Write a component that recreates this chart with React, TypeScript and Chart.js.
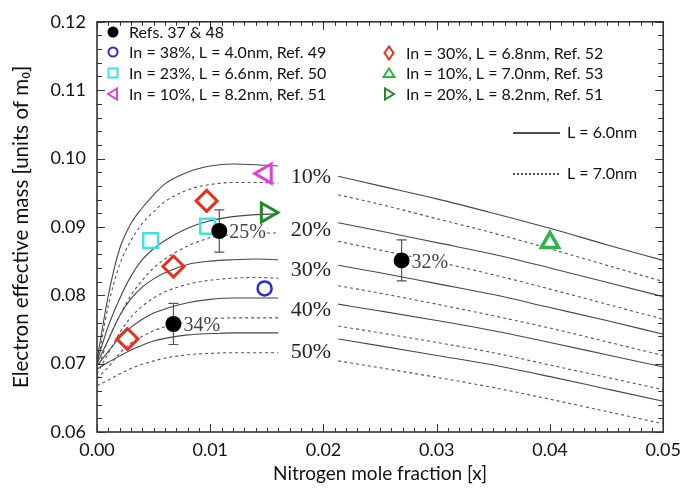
import React, { useEffect, useRef } from "react";
import { Chart, registerables } from "chart.js";
Chart.register(...registerables);

// ---------- data ----------
const LEFT_X = [0, 0.001, 0.002, 0.003, 0.004, 0.005, 0.006, 0.008, 0.010, 0.012, 0.014, 0.016];
const RIGHT_X = [0.0213, 0.025, 0.03, 0.035, 0.04, 0.045, 0.05];

// L = 6.0 nm (solid), left panel
const S10_L = [0.0705, 0.0800, 0.0868, 0.0905, 0.0928, 0.0947, 0.0963, 0.0980, 0.0989, 0.0992, 0.0991, 0.0989];
const S20_L = [0.0703, 0.0755, 0.0795, 0.0828, 0.0852, 0.0868, 0.0880, 0.0898, 0.0909, 0.0915, 0.0918, 0.0919];
const S30_L = [0.0700, 0.0735, 0.0770, 0.0795, 0.0812, 0.0824, 0.0833, 0.0845, 0.0850, 0.0852, 0.0853, 0.0852];
const S40_L = [0.0697, 0.0718, 0.0738, 0.0753, 0.0765, 0.0774, 0.0780, 0.0789, 0.0794, 0.0796, 0.0796, 0.0796];
const S50_L = [0.0692, 0.0702, 0.0711, 0.0720, 0.0727, 0.0733, 0.0737, 0.0742, 0.0744, 0.0745, 0.0745, 0.0745];
// L = 7.0 nm (dashed), left panel
const D10_L = [0.0695, 0.0785, 0.0845, 0.0880, 0.0905, 0.0922, 0.0937, 0.0954, 0.0962, 0.0965, 0.0965, 0.0964];
const D20_L = [0.0690, 0.0735, 0.0770, 0.0800, 0.0822, 0.0840, 0.0853, 0.0872, 0.0884, 0.0889, 0.0891, 0.0891];
const D30_L = [0.0685, 0.0715, 0.0745, 0.0768, 0.0784, 0.0796, 0.0805, 0.0816, 0.0822, 0.0825, 0.0826, 0.0825];
const D40_L = [0.0678, 0.0695, 0.0715, 0.0730, 0.0740, 0.0748, 0.0754, 0.0761, 0.0765, 0.0767, 0.0767, 0.0767];
const D50_L = [0.0668, 0.0676, 0.0685, 0.0693, 0.0699, 0.0704, 0.0708, 0.0713, 0.0715, 0.0716, 0.0716, 0.0716];

// right panel
const S10_R = [0.0974, 0.0960, 0.0941, 0.0920, 0.0898, 0.0874, 0.0851];
const S20_R = [0.0906, 0.0894, 0.0877, 0.0860, 0.0840, 0.0819, 0.0798];
const S30_R = [0.0844, 0.0833, 0.0817, 0.0801, 0.0782, 0.0763, 0.0743];
const S40_R = [0.0787, 0.0777, 0.0763, 0.0748, 0.0731, 0.0713, 0.0695];
const S50_R = [0.0736, 0.0726, 0.0712, 0.0698, 0.0681, 0.0663, 0.0645];
const D10_R = [0.0947, 0.0933, 0.0912, 0.0891, 0.0868, 0.0844, 0.0820];
const D20_R = [0.0879, 0.0866, 0.0849, 0.0830, 0.0809, 0.0787, 0.0765];
const D30_R = [0.0814, 0.0803, 0.0787, 0.0770, 0.0752, 0.0732, 0.0712];
const D40_R = [0.0755, 0.0745, 0.0731, 0.0716, 0.0698, 0.0680, 0.0662];
const D50_R = [0.0704, 0.0694, 0.0680, 0.0665, 0.0648, 0.0630, 0.0612];

const IN_LABELS = ["10%", "20%", "30%", "40%", "50%"];
const IN_LABEL_X = 0.0189;
const IN_LABEL_Y = [0.0972, 0.0895, 0.0836, 0.0778, 0.0717];

// experimental points
const REFS_X = [0.0108, 0.00675, 0.0269];
const REFS_Y = [0.0894, 0.0758, 0.0851];
const REFS_ERR = [0.0031, 0.0030, 0.0030];
const REFS_LABELS = ["25%", "34%", "32%"];
const REF49_X = [0.0148];
const REF49_Y = [0.0810];
const REF50_X = [0.00474, 0.00977];
const REF50_Y = [0.0880, 0.0901];
const REF51A_X = [0.0149];
const REF51A_Y = [0.0978];
const REF52_X = [0.00269, 0.00675, 0.00968];
const REF52_Y = [0.0736, 0.0842, 0.0938];
const REF53_X = [0.0400];
const REF53_Y = [0.0877];
const REF51B_X = [0.0150];
const REF51B_Y = [0.0921];

const LEGEND_COL1 = ["Refs. 37 & 48", "In = 38%, L = 4.0nm, Ref. 49", "In = 23%, L = 6.6nm, Ref. 50", "In = 10%, L = 8.2nm, Ref. 51"];
const LEGEND_COL2 = ["In = 30%, L = 6.8nm, Ref. 52", "In = 10%, L = 7.0nm, Ref. 53", "In = 20%, L = 8.2nm, Ref. 51"];
const LINE_LEGEND = ["L = 6.0nm", "L = 7.0nm"];

// ---------- styles ----------
const SANS = "Lato, 'Open Sans', sans-serif";
const SERIF = "'Liberation Serif', 'DejaVu Serif', serif";
const C_BLUE = "#2b2bd4";
const C_CYAN = "#3ee4e4";
const C_MAG = "#e03fd8";
const C_RED = "#ee2c1c";
const C_GREEN = "#2bb54a";
const C_DGREEN = "#1f8a2c";

const pts = (xs: number[], ys: number[]) => xs.map((x, i) => ({ x, y: ys[i] }));
const curve = (left: number[], right: number[]) => [
  ...pts(LEFT_X, left),
  { x: 0.019, y: null as any },
  ...pts(RIGHT_X, right),
];

function drawMarker(ctx: CanvasRenderingContext2D, kind: string, x: number, y: number, color: string) {
  ctx.save();
  ctx.strokeStyle = color;
  ctx.fillStyle = color;
  ctx.lineWidth = 2;
  ctx.beginPath();
  if (kind === "dot") {
    ctx.arc(x, y, 5.5, 0, Math.PI * 2);
    ctx.fill();
  } else if (kind === "circle") {
    ctx.arc(x, y, 4.5, 0, Math.PI * 2);
    ctx.stroke();
  } else if (kind === "square") {
    ctx.rect(x - 4.5, y - 4.5, 9, 9);
    ctx.stroke();
  } else if (kind === "left") {
    ctx.moveTo(x - 5, y);
    ctx.lineTo(x + 4, y - 5.5);
    ctx.lineTo(x + 4, y + 5.5);
    ctx.closePath();
    ctx.stroke();
  } else if (kind === "right") {
    ctx.moveTo(x + 5, y);
    ctx.lineTo(x - 4, y - 5.5);
    ctx.lineTo(x - 4, y + 5.5);
    ctx.closePath();
    ctx.stroke();
  } else if (kind === "diamond") {
    ctx.moveTo(x, y - 6.5);
    ctx.lineTo(x + 4.5, y);
    ctx.lineTo(x, y + 6.5);
    ctx.lineTo(x - 4.5, y);
    ctx.closePath();
    ctx.stroke();
  } else if (kind === "up") {
    ctx.moveTo(x, y - 4.5);
    ctx.lineTo(x + 5.5, y + 4);
    ctx.lineTo(x - 5.5, y + 4);
    ctx.closePath();
    ctx.stroke();
  }
  ctx.restore();
}

const decorPlugin = {
  id: "decor",
  beforeDatasetsDraw(chart: any) {
    const { ctx, scales } = chart;
    const xs = scales.x, ys = scales.y;
    ctx.save();
    ctx.strokeStyle = "#555";
    ctx.lineWidth = 1.2;
    REFS_X.forEach((xv, i) => {
      const px = xs.getPixelForValue(xv);
      const t = ys.getPixelForValue(REFS_Y[i] + REFS_ERR[i]);
      const b = ys.getPixelForValue(REFS_Y[i] - REFS_ERR[i]);
      ctx.beginPath();
      ctx.moveTo(px, t); ctx.lineTo(px, b);
      ctx.moveTo(px - 5, t); ctx.lineTo(px + 5, t);
      ctx.moveTo(px - 5, b); ctx.lineTo(px + 5, b);
      ctx.stroke();
    });
    ctx.restore();
  },
  afterDatasetsDraw(chart: any) {
    const { ctx, chartArea, scales } = chart;
    const { left, right, top, bottom } = chartArea;
    const xs = scales.x, ys = scales.y;
    ctx.save();
    // point labels
    ctx.font = `20px ${SERIF}`;
    ctx.textBaseline = "middle";
    ctx.textAlign = "left";
    REFS_LABELS.forEach((lab, i) => {
      const px = xs.getPixelForValue(REFS_X[i]) + 10;
      const py = ys.getPixelForValue(REFS_Y[i]) + 2;
      const w = ctx.measureText(lab).width;
      ctx.fillStyle = "#fff";
      ctx.fillRect(px, py - 7, w, 14);
      ctx.fillStyle = "#444";
      ctx.fillText(lab, px, py);
    });
    // In-content labels
    ctx.font = `22px ${SERIF}`;
    ctx.textAlign = "center";
    ctx.fillStyle = "#222";
    IN_LABELS.forEach((lab, i) => {
      ctx.fillText(lab, xs.getPixelForValue(IN_LABEL_X), ys.getPixelForValue(IN_LABEL_Y[i]));
    });
    // frame
    ctx.strokeStyle = "#333";
    ctx.lineWidth = 1.6;
    ctx.strokeRect(left, top, right - left, bottom - top);
    ctx.lineWidth = 1;
    ctx.beginPath();
    for (let i = 0; i <= 50; i++) {
      const px = Math.round(xs.getPixelForValue(i * 0.001)) + 0.5;
      const len = i % 10 === 0 ? 8 : 4;
      ctx.moveTo(px, bottom); ctx.lineTo(px, bottom - len);
      ctx.moveTo(px, top); ctx.lineTo(px, top + len);
    }
    for (let i = 0; i <= 30; i++) {
      const py = Math.round(ys.getPixelForValue(0.06 + i * 0.002)) + 0.5;
      const len = i % 5 === 0 ? 8 : 5;
      ctx.moveTo(left, py); ctx.lineTo(left + len, py);
      ctx.moveTo(right, py); ctx.lineTo(right - len, py);
    }
    ctx.stroke();
    // legend
    ctx.font = `16px ${SANS}`;
    ctx.textAlign = "left";
    ctx.fillStyle = "#111";
    const col1Kinds = ["dot", "circle", "square", "left"];
    const col1Colors = ["#000", C_BLUE, C_CYAN, C_MAG];
    const rows1 = [32, 52, 73, 94];
    LEGEND_COL1.forEach((t, i) => {
      drawMarker(ctx, col1Kinds[i], left + 16, rows1[i], col1Colors[i]);
      ctx.fillStyle = "#111";
      ctx.fillText(t, left + 32, rows1[i] + 1);
    });
    const col2Kinds = ["diamond", "up", "right"];
    const col2Colors = [C_RED, C_GREEN, C_DGREEN];
    const rows2 = [53, 73, 94];
    LEGEND_COL2.forEach((t, i) => {
      drawMarker(ctx, col2Kinds[i], left + 292, rows2[i], col2Colors[i]);
      ctx.fillStyle = "#111";
      ctx.fillText(t, left + 309, rows2[i] + 1);
    });
    // line legend
    ctx.strokeStyle = "#111";
    ctx.lineWidth = 1.5;
    ctx.beginPath();
    ctx.moveTo(left + 416, 133); ctx.lineTo(left + 463, 133);
    ctx.stroke();
    ctx.setLineDash([2, 2]);
    ctx.beginPath();
    ctx.moveTo(left + 416, 174); ctx.lineTo(left + 463, 174);
    ctx.stroke();
    ctx.setLineDash([]);
    ctx.fillText(LINE_LEGEND[0], left + 470, 133);
    ctx.fillText(LINE_LEGEND[1], left + 470, 174);
    ctx.restore();
  },
};

export default function App() {
  const ref = useRef<HTMLCanvasElement | null>(null);
  useEffect(() => {
    document.body.style.margin = "0";
    const solid = (l: number[], r: number[]) => ({
      data: curve(l, r), showLine: true, borderColor: "#474747", borderWidth: 1.1,
      pointRadius: 0, cubicInterpolationMode: "monotone", spanGaps: false, order: 2,
    });
    const dashed = (l: number[], r: number[]) => ({
      ...solid(l, r), borderDash: [3, 3], borderColor: "#555",
    });
    const marker = (xs: number[], ys: number[], o: any) => ({
      data: pts(xs, ys), showLine: false, order: 0, backgroundColor: "rgba(0,0,0,0)", ...o,
    });
    const chart = new Chart(ref.current as HTMLCanvasElement, {
      type: "scatter",
      data: {
        datasets: [
          marker(REFS_X, REFS_Y, { pointStyle: "circle", pointRadius: 8, backgroundColor: "#000", borderColor: "#000", borderWidth: 0 }),
          marker(REF49_X, REF49_Y, { pointStyle: "circle", pointRadius: 7, borderColor: C_BLUE, borderWidth: 2.5 }),
          marker(REF50_X, REF50_Y, { pointStyle: "rect", pointRadius: 10.5, borderColor: C_CYAN, borderWidth: 2.5 }),
          marker(REF51A_X, REF51A_Y, { pointStyle: "triangle", rotation: 270, pointRadius: 11, borderColor: C_MAG, borderWidth: 3 }),
          marker(REF52_X, REF52_Y, { pointStyle: "rectRot", pointRadius: 10.5, borderColor: C_RED, borderWidth: 3 }),
          marker(REF53_X, REF53_Y, { pointStyle: "triangle", pointRadius: 10, borderColor: C_GREEN, borderWidth: 3.5 }),
          marker(REF51B_X, REF51B_Y, { pointStyle: "triangle", rotation: 90, pointRadius: 11, borderColor: C_DGREEN, borderWidth: 3 }),
          solid(S10_L, S10_R), dashed(D10_L, D10_R),
          solid(S20_L, S20_R), dashed(D20_L, D20_R),
          solid(S30_L, S30_R), dashed(D30_L, D30_R),
          solid(S40_L, S40_R), dashed(D40_L, D40_R),
          solid(S50_L, S50_R), dashed(D50_L, D50_R),
        ] as any,
      },
      options: {
        animation: false,
        responsive: false,
        devicePixelRatio: 1,
        layout: { padding: { top: 15, right: 21, left: 0, bottom: 0 } },
        plugins: { legend: { display: false }, tooltip: { enabled: false } },
        scales: {
          x: {
            type: "linear", min: 0, max: 0.05,
            grid: { display: false, drawTicks: false },
            border: { display: false },
            ticks: { stepSize: 0.01, padding: 7, color: "#111", font: { family: SANS, size: 18 }, callback: (v: any) => Number(v).toFixed(2), maxRotation: 0 },
            title: { display: true, text: "Nitrogen mole fraction [x]", color: "#111", font: { family: SANS, size: 19 }, padding: { top: 0, bottom: 6 } },
            afterFit: (s: any) => { s.height = 59; },
          },
          y: {
            type: "linear", min: 0.06, max: 0.12,
            grid: { display: false, drawTicks: false },
            border: { display: false },
            ticks: { stepSize: 0.01, padding: 11, color: "#111", font: { family: SANS, size: 18 }, callback: (v: any) => Number(v).toFixed(2) },
            title: { display: true, text: "Electron effective mass [units of m\u2080]", color: "#111", font: { family: SANS, size: 20.5 }, padding: { top: 9, bottom: 0 } },
            afterFit: (s: any) => { s.width = 97; },
          },
        },
      } as any,
      plugins: [decorPlugin],
    });
    return () => chart.destroy();
  }, []);
  return (
    <div style={{ width: 688, height: 491, background: "#fff" }}>
      <canvas ref={ref} width={688} height={491} style={{ display: "block" }} />
    </div>
  );
}
